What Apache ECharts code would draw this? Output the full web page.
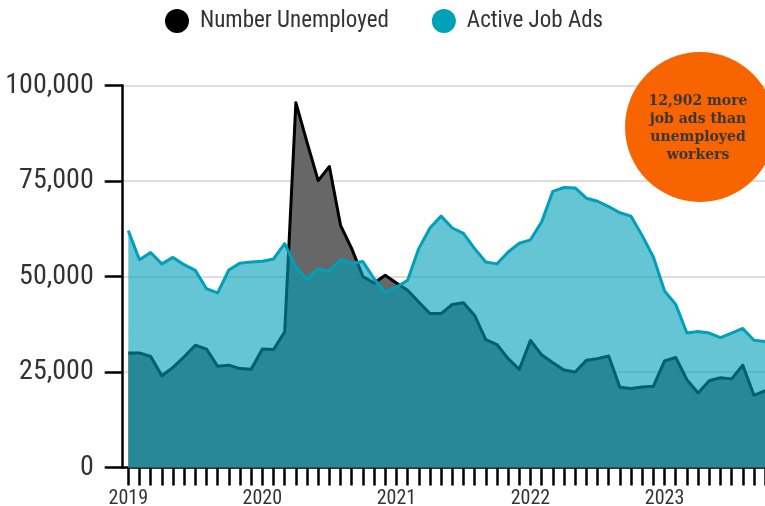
<!DOCTYPE html>
<html>
<head>
<meta charset="utf-8">
<script src="https://cdn.jsdelivr.net/npm/echarts@6/dist/echarts.min.js"></script>
<style>
  html, body { margin: 0; padding: 0; background: #fff; }
  #chart { width: 765px; height: 506px; }
</style>
</head>
<body>
<div id="chart"></div>
<script>
// monthly, Jan 2019 .. Oct 2023
const years = [2019, 2020, 2021, 2022, 2023];
const lastMonth = 10;

const unemployed = [
  30000, 30000, 29100, 24000, 26200, 29000, 32000, 31000, 26500, 26800, 25900, 25700,
  31000, 30900, 35500, 95500, 85100, 75100, 78800, 63400, 57300, 50000, 48300, 50300,
  48300, 46400, 43300, 40300, 40300, 42700, 43100, 39800, 33500, 32200, 28500, 25700,
  33300, 29500, 27400, 25500, 25000, 28100, 28500, 29200, 21000, 20700, 21100, 21300,
  27900, 28800, 23000, 19500, 22700, 23500, 23200, 26800, 18900, 20100
];

const jobAds = [
  62000, 54400, 56300, 53300, 55000, 53100, 51600, 46800, 45700, 51700, 53500, 53800,
  54000, 54600, 58600, 52500, 49300, 51900, 51400, 54400, 53500, 53900, 49400, 45900,
  47200, 49000, 57300, 62700, 65800, 62700, 61300, 57300, 53800, 53300, 56400, 58700,
  59600, 64300, 72300, 73300, 73200, 70500, 69700, 68300, 66700, 65800, 60700, 55100,
  46200, 42700, 35200, 35600, 35200, 34000, 35200, 36400, 33300, 33000
];

const yTicks = [0, 25000, 50000, 75000, 100000];
const noteText = "12,902 more\njob ads than\nunemployed\nworkers";

let months = [];
years.forEach(y => {
  for (let m = 1; m <= 12; m++) {
    if (y === years[years.length - 1] && m > lastMonth) break;
    months.push(y + "-" + (m < 10 ? "0" + m : m));
  }
});

const condensed = "'Roboto Condensed', 'Liberation Sans Narrow', 'DejaVu Sans Condensed', Roboto, sans-serif";

var myChart = echarts.init(document.getElementById("chart"));
var option = {
  animation: false,
  backgroundColor: "#fff",
  legend: {
    top: 9,
    left: 165,
    padding: 0,
    icon: "circle",
    itemWidth: 24,
    itemHeight: 24,
    itemGap: 43,
    textStyle: {
      fontFamily: condensed,
      fontSize: 23,
      color: "#333",
      padding: [0, 0, 0, 6]
    },
    data: ["Number Unemployed", "Active Job Ads"]
  },
  grid: {
    left: 122.7,
    right: -5.7,
    top: 85.5,
    bottom: 38.5,
    containLabel: false,
    outerBoundsMode: "none"
  },
  xAxis: {
    type: "category",
    data: months,
    boundaryGap: true,
    axisLine: { lineStyle: { color: "#000", width: 2.5 } },
    axisTick: {
      show: true,
      interval: 0,
      alignWithLabel: true,
      length: 18,
      lineStyle: { color: "#000", width: 2.5 }
    },
    axisLabel: {
      interval: function (i, v) { return v.slice(5) === "01"; },
      formatter: function (v) { return v.slice(0, 4); },
      margin: 21,
      fontFamily: condensed,
      fontSize: 20,
      color: "#333"
    },
    splitLine: { show: false }
  },
  yAxis: {
    type: "value",
    min: yTicks[0],
    max: yTicks[yTicks.length - 1],
    interval: yTicks[1] - yTicks[0],
    axisLine: { show: true, lineStyle: { color: "#000", width: 2.5 } },
    axisTick: { show: true, length: 18, lineStyle: { color: "#000", width: 2.5 } },
    axisLabel: {
      margin: 29,
      fontFamily: condensed,
      fontSize: 28,
      color: "#333",
      formatter: function (v) { return v.toLocaleString("en-US"); }
    },
    splitLine: { show: true, lineStyle: { color: "#dedede", width: 2 } }
  },
  series: [
    {
      name: "Number Unemployed",
      type: "line",
      data: unemployed,
      symbol: "none",
      itemStyle: { color: "#000" },
      lineStyle: { color: "#000", width: 3, join: "round" },
      areaStyle: { color: "#676767", opacity: 1 },
      z: 2
    },
    {
      name: "Active Job Ads",
      type: "line",
      data: jobAds,
      symbol: "none",
      itemStyle: { color: "#00A0B8" },
      lineStyle: { color: "#00A0B8", width: 3, join: "round" },
      areaStyle: { color: "rgba(0,158,184,0.6)", opacity: 1 },
      z: 3
    }
  ],
  graphic: [
    {
      type: "circle",
      shape: { cx: 700, cy: 127, r: 75 },
      style: { fill: "#F76400" },
      z: 100
    },
    {
      type: "text",
      x: 698,
      y: 128,
      style: {
        text: noteText,
        fill: "#383838",
        font: "bold 14px 'DejaVu Serif', serif",
        lineHeight: 18,
        align: "center",
        verticalAlign: "middle"
      },
      z: 101
    }
  ]
};
myChart.setOption(option);
</script>
</body>
</html>
